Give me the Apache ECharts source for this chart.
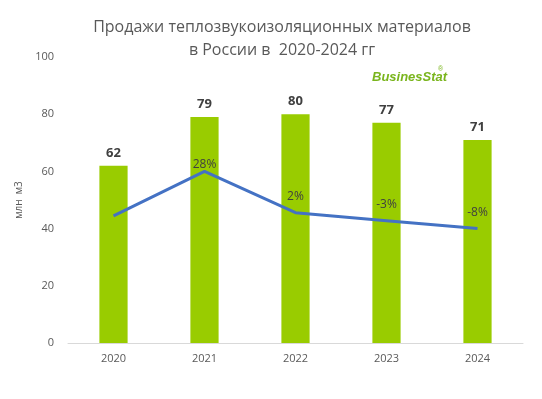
<!DOCTYPE html>
<html><head><meta charset="utf-8">
<script src="https://cdn.jsdelivr.net/npm/echarts@6/dist/echarts.min.js"></script>
<style>html,body{margin:0;padding:0;background:#fff}#c{width:542px;height:399px}</style>
</head><body><div id="c"></div>
<script>
var categories = ['2020','2021','2022','2023','2024'];
var sales = [62, 79, 80, 77, 71];
var growth = [0, 28, 2, -3, -8];
var growthLabels = ['', '28%', '2%', '-3%', '-8%'];
var yTicks = [0, 20, 40, 60, 80, 100];
var titleText = 'Продажи теплозвукоизоляционных материалов\nв России в  2020-2024 гг';

var chart = echarts.init(document.getElementById('c'));
var font = '"Open Sans", "Liberation Sans", sans-serif';
var growthData = growth.map(function(v, i){
  return i === 1 ? {value: v, label: {distance: 0}} : v;
});
chart.setOption({
  animation: false,
  textStyle: {fontFamily: font},
  graphic: [{
    type: 'text', x: 282, y: 16,
    style: {text: titleText, fontFamily: font, fontSize: 16, fill: '#595959', lineHeight: 23, align: 'center', verticalAlign: 'top'}
  },{
    type: 'text', left: 372, top: 71,
    style: {text: 'BusinesStat', fontFamily: '"Liberation Sans Narrow", "Liberation Sans", sans-serif', fontSize: 13, fontWeight: 'bold', fontStyle: 'italic', fill: '#7ab51d'}
  },{
    type: 'text', left: 438, top: 66,
    style: {text: '®', fontSize: 7, fill: '#7ab51d'}
  }],
  grid: {left: 68, right: 19, top: 57, bottom: 56},
  xAxis: {
    type: 'category', data: categories,
    axisLine: {lineStyle: {color: '#d9d9d9'}},
    axisTick: {show: false},
    axisLabel: {color: '#595959', fontSize: 11, margin: 10}
  },
  yAxis: [{
    type: 'value', min: yTicks[0], max: yTicks[yTicks.length-1], interval: 20,
    name: 'млн  м3', nameLocation: 'middle', nameGap: 43, nameRotate: 90,
    nameTextStyle: {color: '#595959', fontSize: 10},
    axisLine: {show: false}, axisTick: {show: false}, splitLine: {show: false},
    axisLabel: {color: '#595959', fontSize: 11, margin: 14}
  },{
    type: 'value', min: -80, max: 100, show: false, splitLine: {show: false}
  }],
  series: [{
    type: 'bar', data: sales, barWidth: '31%',
    itemStyle: {color: '#99cc00'},
    label: {show: true, position: 'top', distance: 6, fontWeight: 'bold', fontSize: 13, color: '#404040'}
  },{
    type: 'line', yAxisIndex: 1, data: growthData,
    symbol: 'circle', symbolSize: 2, showSymbol: true,
    itemStyle: {color: 'rgba(0,0,0,0)', borderWidth: 0},
    lineStyle: {color: '#4472c4', width: 3},
    label: {show: true, position: 'top', distance: 9, fontSize: 12, color: '#404040',
      formatter: function(p){ return growthLabels[p.dataIndex]; }}
  }]
});
</script></body></html>
